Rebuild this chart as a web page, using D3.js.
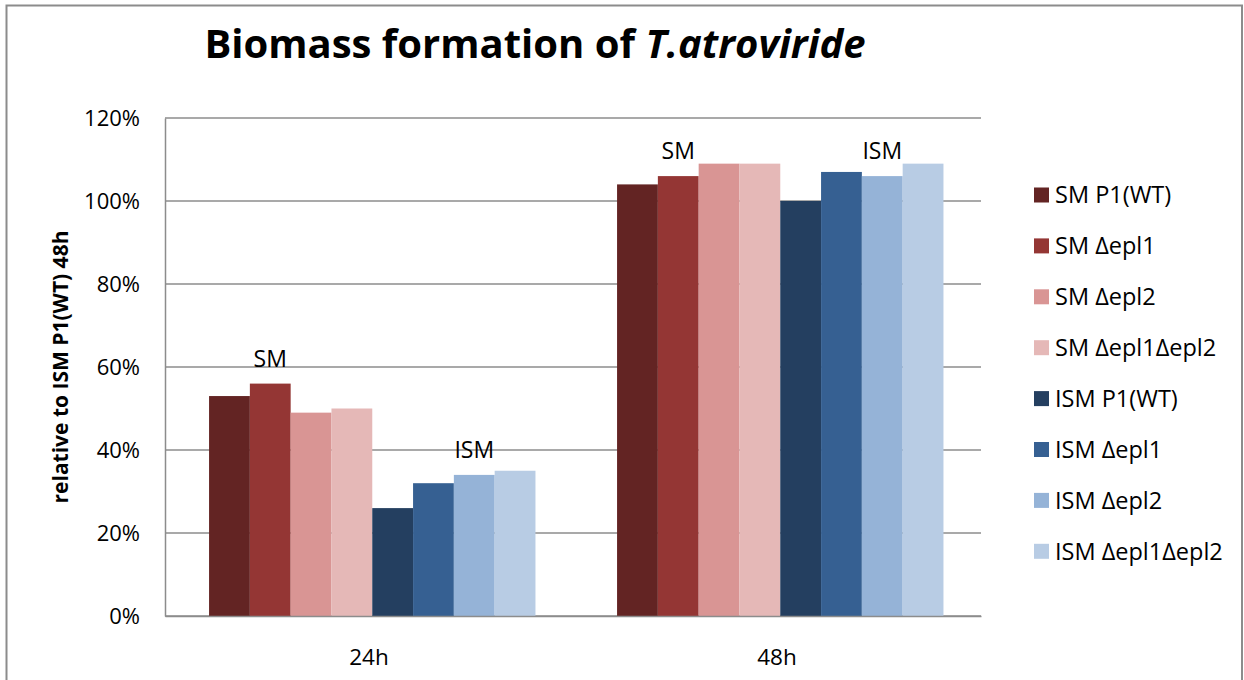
<!DOCTYPE html>
<html>
<head>
<meta charset="utf-8">
<script src="https://cdn.jsdelivr.net/npm/d3@7"></script>
<style>
  html, body { margin: 0; padding: 0; background: #fff; }
  svg text { font-family: "Open Sans", "Noto Sans", sans-serif; fill: #000; }
</style>
</head>
<body>
<svg id="chart" width="1244" height="680"></svg>
<script>
// Time points on the x axis
const categories = ["24h", "48h"];

// Strains grown on SM and ISM media
const seriesNames = [
  "SM P1(WT)", "SM \u0394epl1", "SM \u0394epl2", "SM \u0394epl1\u0394epl2",
  "ISM P1(WT)", "ISM \u0394epl1", "ISM \u0394epl2", "ISM \u0394epl1\u0394epl2"
];

// Biomass relative to ISM P1(WT) at 48h, one array per time point (series order as above)
const values24h = [0.53, 0.56, 0.49, 0.50, 0.26, 0.32, 0.34, 0.35];
const values48h = [1.04, 1.06, 1.09, 1.09, 1.00, 1.07, 1.06, 1.09];

const seriesColors = [
  "#632423", "#943634", "#D99594", "#E5B8B7",
  "#243F60", "#366092", "#95B3D7", "#B8CCE4"
];

// Medium labels placed over one bar of each medium block
const mediumLabels = [
  { text: "SM", series: "SM \u0394epl1" },
  { text: "ISM", series: "ISM \u0394epl2" }
];

const yTicks = [0, 0.2, 0.4, 0.6, 0.8, 1.0, 1.2];

const valuesByCategory = { "24h": values24h, "48h": values48h };

const svg = d3.select("#chart");

// Chart frame
svg.append("path")
  .attr("d", "M6.5,690 V5.5 H1242 V690")
  .attr("fill", "none")
  .attr("stroke", "#8c8c8c")
  .attr("stroke-width", 2);

const plot = { left: 165, right: 981, top: 118, bottom: 616 };

const x = d3.scaleBand().domain(categories).range([plot.left, plot.right]);
const xs = d3.scaleBand().domain(seriesNames).range([0, x.bandwidth()])
  .paddingInner(0).paddingOuter(1).align(0.54);
const y = d3.scaleLinear().domain([0, 1.2]).range([plot.bottom, plot.top]);

// Horizontal gridlines
svg.append("g")
  .selectAll("line")
  .data(yTicks)
  .join("line")
  .attr("x1", plot.left).attr("x2", plot.right)
  .attr("y1", d => y(d)).attr("y2", d => y(d))
  .attr("stroke", "#8c8c8c").attr("stroke-width", 1.5);

// Y axis
const yAxis = d3.axisLeft(y).tickValues(yTicks).tickFormat(d3.format(".0%")).tickSize(0).tickPadding(25);
const gy = svg.append("g").attr("transform", `translate(${plot.left},0)`).call(yAxis);
gy.select(".domain").attr("stroke", "#8c8c8c").attr("stroke-width", 1.5);
gy.selectAll("text").style("font-size", "22px").attr("fill", "#000");

// Bars
const groups = svg.append("g")
  .selectAll("g")
  .data(categories)
  .join("g")
  .attr("transform", d => `translate(${x(d)},0)`);

groups.selectAll("rect")
  .data(c => valuesByCategory[c].map((v, i) => ({ name: seriesNames[i], value: v, color: seriesColors[i] })))
  .join("rect")
  .attr("x", d => xs(d.name))
  .attr("width", xs.bandwidth())
  .attr("y", d => y(d.value))
  .attr("height", d => y(0) - y(d.value))
  .attr("fill", d => d.color);

// Medium labels above bars
groups.selectAll("text.medium")
  .data(c => mediumLabels.map(m => ({ text: m.text, name: m.series, value: valuesByCategory[c][seriesNames.indexOf(m.series)] })))
  .join("text")
  .attr("class", "medium")
  .attr("x", d => xs(d.name) + xs.bandwidth() / 2)
  .attr("y", d => y(d.value) - 17)
  .attr("text-anchor", "middle")
  .style("font-size", "23px")
  .text(d => d.text);

// X axis
const xAxis = d3.axisBottom(x).tickSize(0).tickPadding(33);
const gx = svg.append("g").attr("transform", `translate(0,${plot.bottom})`).call(xAxis);
gx.select(".domain").attr("stroke", "#8c8c8c").attr("stroke-width", 1.5);
gx.selectAll("text").style("font-size", "22.5px").attr("fill", "#000");

// Y axis title
svg.append("text")
  .attr("transform", `translate(68,${(plot.top + plot.bottom) / 2}) rotate(-90)`)
  .attr("text-anchor", "middle")
  .style("font-size", "21px")
  .style("font-weight", "bold")
  .text("relative to ISM P1(WT) 48h");

// Title
const title = svg.append("text")
  .attr("x", 535)
  .attr("y", 58)
  .attr("text-anchor", "middle")
  .style("font-size", "40px")
  .style("font-weight", "bold");
title.append("tspan").text("Biomass formation of ");
title.append("tspan").style("font-style", "italic").text("T.atroviride");

// Legend
const legend = svg.append("g")
  .selectAll("g")
  .data(seriesNames)
  .join("g")
  .attr("transform", (d, i) => `translate(1034,${195 + i * 50.9})`);

legend.append("rect")
  .attr("x", 0).attr("y", -7.5)
  .attr("width", 15).attr("height", 15)
  .attr("fill", (d, i) => seriesColors[i]);

legend.append("text")
  .attr("x", 21)
  .attr("dy", "0.35em")
  .style("font-size", "23.5px")
  .text(d => d);
</script>
</body>
</html>
